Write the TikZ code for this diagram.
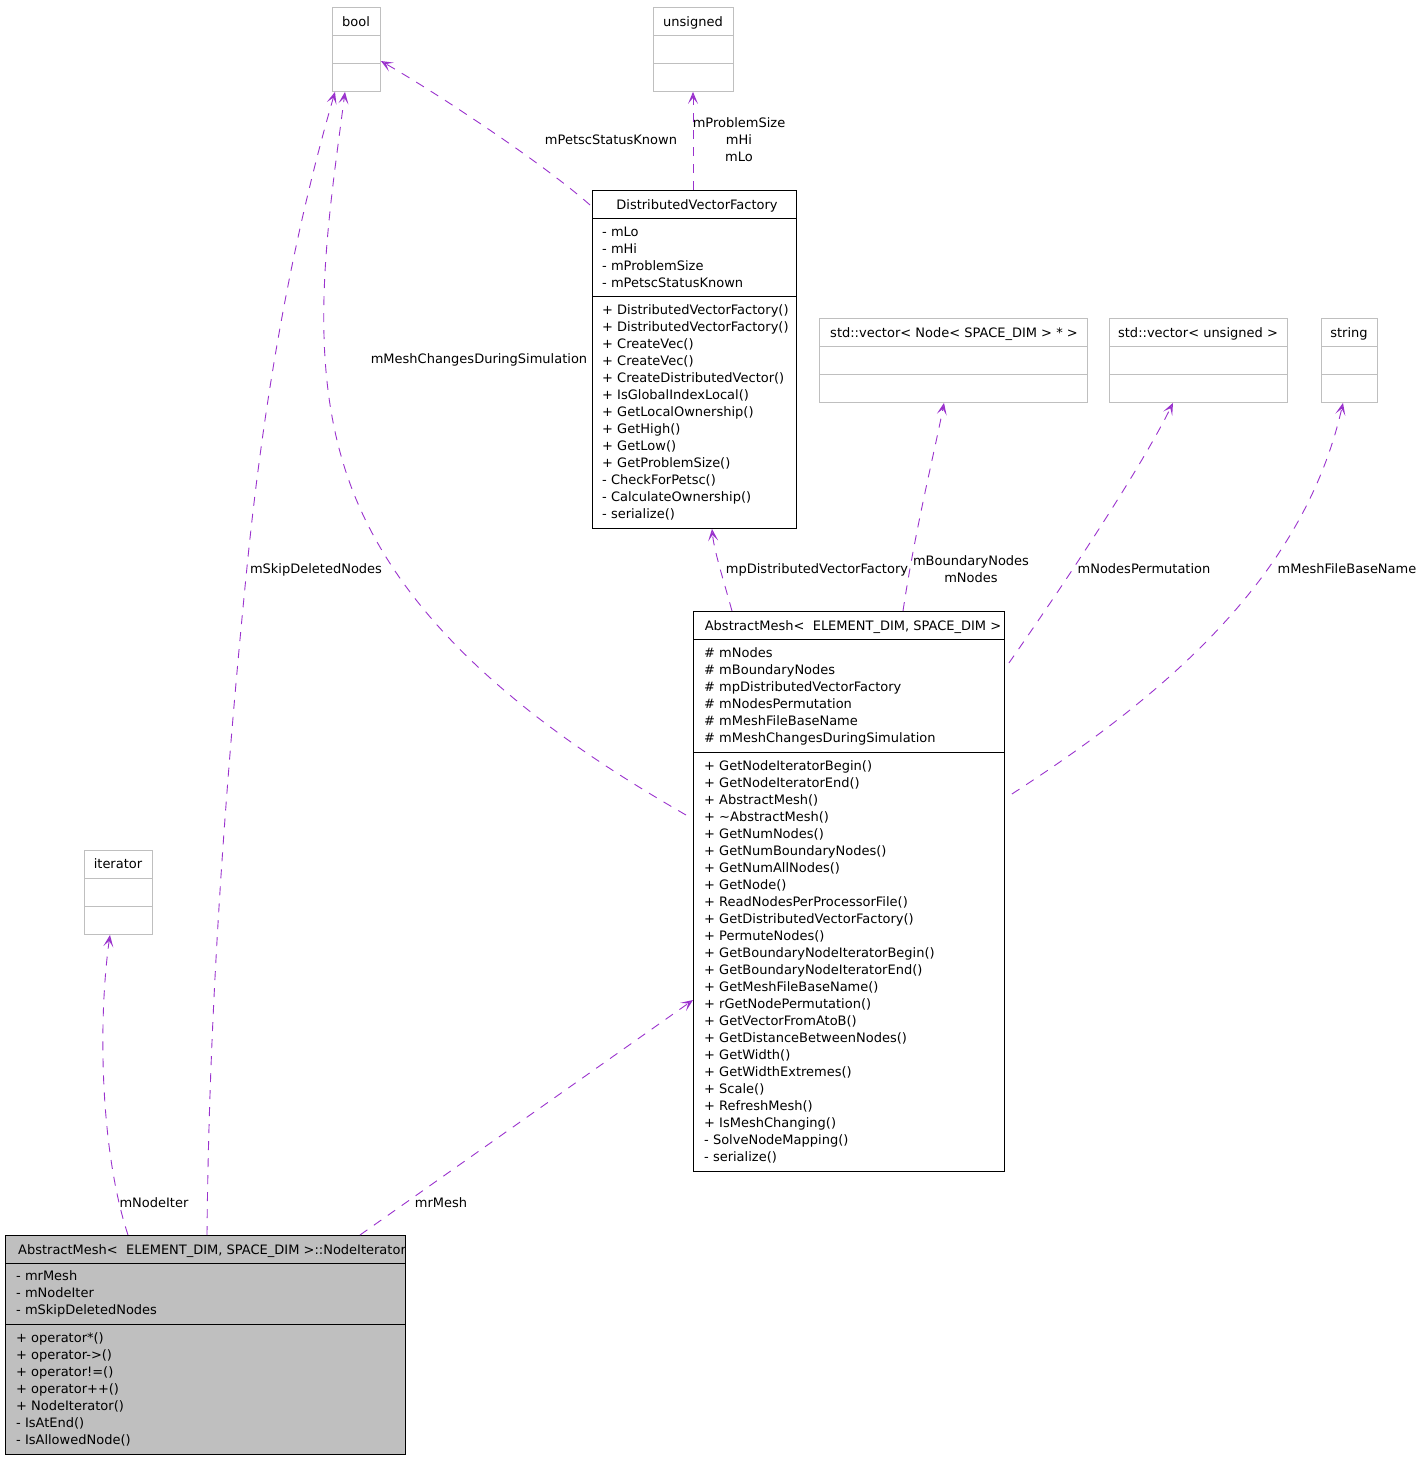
\documentclass[tikz,border=0pt]{standalone}
\usepackage{fontspec}
\setmainfont{DejaVu Sans}
\usetikzlibrary{arrows.meta}
\definecolor{edgec}{HTML}{9A32CD}
\definecolor{grayb}{HTML}{BFBFBF}
\begin{document}
\begin{tikzpicture}[x=1pt,y=-1pt,
  txt/.style={inner sep=0pt, font=\fontsize{13}{17}\selectfont, text height=9.5pt, text depth=3pt, yshift=-2pt},
  cls/.style={draw=black, line width=0.9pt, inner sep=0pt, anchor=north west},
  ucls/.style={draw=grayb, line width=0.9pt, inner sep=0pt, anchor=north west},
  divb/.style={draw=black, line width=0.9pt},
  divg/.style={draw=grayb, line width=0.9pt},
  edge/.style={draw=edgec, line width=0.9pt, dash pattern=on 9pt off 8pt,
    -{Stealth[open, length=12pt, width=10pt, inset=6pt, line width=1.2pt]}},
  lbl/.style={txt}]

\useasboundingbox (0,0) rectangle (1420,1459);

% ---------- used (gray) classes ----------
\node[ucls, minimum width=48pt, minimum height=84pt] (bool) at (332,7) {};
\draw[divg] (332,35) -- (380,35); \draw[divg] (332,63) -- (380,63);
\node[txt] (boolt) at (356,21) {bool};

\node[ucls, minimum width=80pt, minimum height=84pt] (uns) at (653,7) {};
\draw[divg] (653,35) -- (733,35); \draw[divg] (653,63) -- (733,63);
\node[txt] (unst) at (693,21) {unsigned};

\node[ucls, minimum width=68pt, minimum height=84pt] (iter) at (84,850) {};
\draw[divg] (84,878) -- (152,878); \draw[divg] (84,906) -- (152,906);
\node[txt] (itert) at (118,863) {iterator};

\node[ucls, minimum width=268pt, minimum height=84pt] (vn) at (819,318) {};
\draw[divg] (819,346) -- (1087,346); \draw[divg] (819,374) -- (1087,374);
\node[txt] (vnt) at (954,332) {std::vector<\ Node<\ SPACE\_DIM > * >};

\node[ucls, minimum width=178pt, minimum height=84pt] (vu) at (1109,318) {};
\draw[divg] (1109,346) -- (1287,346); \draw[divg] (1109,374) -- (1287,374);
\node[txt] (vut) at (1198,332) {std::vector<\ unsigned >};

\node[ucls, minimum width=56pt, minimum height=84pt] (str) at (1321,318) {};
\draw[divg] (1321,346) -- (1377,346); \draw[divg] (1321,374) -- (1377,374);
\node[txt] (strt) at (1349,332) {string};

% ---------- DistributedVectorFactory ----------
\node[cls, minimum width=204pt, minimum height=338pt] (dvf) at (592,190) {};
\draw[divb] (592,218) -- (796,218); \draw[divb] (592,296.5) -- (796,296.5);
\node[txt] (dvft) at (697,204) {DistributedVectorFactory};
\foreach \t [count=\i from 0] in {- mLo, - mHi, - mProblemSize, - mPetscStatusKnown}
  \node[txt, anchor=west] (dvfa\i) at (602, 231.7+17*\i) {\t};
\foreach \t [count=\i from 0] in {+ DistributedVectorFactory(), + DistributedVectorFactory(),
  + CreateVec(), + CreateVec(), + CreateDistributedVector(), + IsGlobalIndexLocal(),
  + GetLocalOwnership(), + GetHigh(), + GetLow(), + GetProblemSize(),
  - CheckForPetsc(), - CalculateOwnership(), - serialize()}
  \node[txt, anchor=west] (dvfm\i) at (602, 309.3+17*\i) {\t};

% ---------- AbstractMesh ----------
\node[cls, minimum width=311pt, minimum height=560pt] (am) at (693,611) {};
\draw[divb] (693,639) -- (1004,639); \draw[divb] (693,752.5) -- (1004,752.5);
\node[txt] (amt) at (853,625) {AbstractMesh<\ \ ELEMENT\_DIM, SPACE\_DIM >};
\foreach \t [count=\i from 0] in {\# mNodes, \# mBoundaryNodes, \# mpDistributedVectorFactory,
  \# mNodesPermutation, \# mMeshFileBaseName, \# mMeshChangesDuringSimulation}
  \node[txt, anchor=west] (ama\i) at (704, 652.7+17*\i) {\t};
\foreach \t [count=\i from 0] in {+ GetNodeIteratorBegin(), + GetNodeIteratorEnd(),
  + AbstractMesh(), + \textasciitilde AbstractMesh(), + GetNumNodes(), + GetNumBoundaryNodes(),
  + GetNumAllNodes(), + GetNode(), + ReadNodesPerProcessorFile(), + GetDistributedVectorFactory(),
  + PermuteNodes(), + GetBoundaryNodeIteratorBegin(), + GetBoundaryNodeIteratorEnd(),
  + GetMeshFileBaseName(), + rGetNodePermutation(), + GetVectorFromAtoB(),
  + GetDistanceBetweenNodes(), + GetWidth(), + GetWidthExtremes(), + Scale(),
  + RefreshMesh(), + IsMeshChanging(), - SolveNodeMapping(), - serialize()}
  \node[txt, anchor=west] (amm\i) at (704, 765+17*\i) {\t};

% ---------- NodeIterator ----------
\node[cls, fill=grayb, minimum width=400pt, minimum height=219pt] (nit) at (5,1235) {};
\draw[divb] (5,1263) -- (405,1263); \draw[divb] (5,1324) -- (405,1324);
\node[txt] (nitt) at (212,1249) {AbstractMesh<\ \ ELEMENT\_DIM, SPACE\_DIM >::NodeIterator};
\foreach \t [count=\i from 0] in {- mrMesh, - mNodeIter, - mSkipDeletedNodes}
  \node[txt, anchor=west] (nita\i) at (16, 1275.7+17*\i) {\t};
\foreach \t [count=\i from 0] in {+ operator*(), + operator->(), + operator!=(),
  + operator++(), + NodeIterator(), - IsAtEnd(), - IsAllowedNode()}
  \node[txt, anchor=west] (nitm\i) at (16, 1337+17*\i) {\t};

% ---------- connectors ----------
\draw[edge] ([xshift=123pt]nit.north west) .. controls (100,1150) and (98,1020) .. ([xshift=26pt]iter.south west);
\draw[edge] ([xshift=202pt]nit.north west) .. controls (209,1012) and (224.7,790) .. (247,567)
  .. controls (263,407) and (290,247) .. ([xshift=3pt]bool.south west);
\draw[edge] ([xshift=355pt]nit.north west) -- ([yshift=-389pt]am.north west);
\draw[edge] ([xshift=-7pt,yshift=-204pt]am.north west) .. controls (547,735) and (398,627) .. (347,475)
  .. controls (306,354) and (328.5,219) .. ([xshift=13pt]bool.south west);
\draw[edge] ([xshift=-2pt,yshift=-15pt]dvf.north west) .. controls (545,165) and (440,95) .. ([yshift=-54pt]bool.north east);
\draw[edge] ([xshift=101pt]dvf.north west) -- ([xshift=40pt]uns.south west);
\draw[edge] ([xshift=39pt]am.north west) .. controls (722,575) and (714,550) .. ([xshift=120pt]dvf.south west);
\draw[edge] ([xshift=210pt]am.north west) .. controls (915,530) and (935,450) .. ([xshift=125pt]vn.south west);
\draw[edge] ([xshift=4pt,yshift=-52pt]am.north east) .. controls (1060,590) and (1140,470) .. ([xshift=64pt]vu.south west);
\draw[edge] ([xshift=7pt,yshift=-183pt]am.north east) .. controls (1162,697) and (1303,579) .. ([xshift=22pt]str.south west);

% ---------- connector labels ----------
\node[lbl] (l1) at (154,1202) {mNodeIter};
\node[lbl] (l2) at (316,568) {mSkipDeletedNodes};
\node[lbl] (l3) at (441,1202) {mrMesh};
\node[lbl] (l4) at (479,358) {mMeshChangesDuringSimulation};
\node[lbl] (l5) at (611,139) {mPetscStatusKnown};
\node[lbl] (l6a) at (739,122.5) {mProblemSize};
\node[lbl] (l6b) at (739,139.5) {mHi};
\node[lbl] (l6c) at (739,156.5) {mLo};
\node[lbl] (l7) at (817,568) {mpDistributedVectorFactory};
\node[lbl] (l8a) at (971,560) {mBoundaryNodes};
\node[lbl] (l8b) at (971,577) {mNodes};
\node[lbl] (l9) at (1144,568) {mNodesPermutation};
\node[lbl] (l10) at (1347,568) {mMeshFileBaseName};
\end{tikzpicture}
\end{document}
